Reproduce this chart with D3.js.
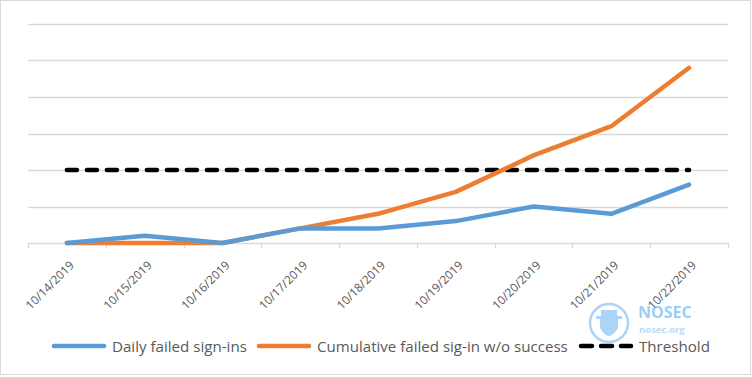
<!DOCTYPE html>
<html>
<head>
<meta charset="utf-8">
<script src="https://cdn.jsdelivr.net/npm/d3@7"></script>
<style>
  body { margin: 0; background: #fff; }
  text { font-family: "Open Sans", "Noto Sans", sans-serif; fill: #595959; }
</style>
</head>
<body>
<div id="chart"></div>
<script>
// chart values
const dates = ["10/14/2019", "10/15/2019", "10/16/2019", "10/17/2019", "10/18/2019",
               "10/19/2019", "10/20/2019", "10/21/2019", "10/22/2019"];
const dailyFailed = [0, 1, 0, 2, 2, 3, 5, 4, 8];
const cumulativeFailed = [0, 0, 0, 2, 4, 7, 12, 16, 24];
const threshold = [10, 10, 10, 10, 10, 10, 10, 10, 10];
const yTicks = [0, 5, 10, 15, 20, 25, 30];
const seriesNames = ["Daily failed sign-ins", "Cumulative failed sig-in w/o success", "Threshold"];

const w = 752, h = 377;

const svg = d3.select("#chart")
  .append("svg")
  .attr("width", w)
  .attr("height", h);

// outer frame
svg.append("rect")
  .attr("x", 0.5).attr("y", 0.5)
  .attr("width", w - 2).attr("height", h - 3)
  .attr("fill", "#fff")
  .attr("stroke", "#d9d9d9");

const plotLeft = 28, plotRight = 728, plotTop = 24, plotBottom = 243;

const x = d3.scaleBand()
  .domain(dates)
  .range([plotLeft, plotRight]);

const y = d3.scaleLinear()
  .domain([0, 30])
  .range([plotBottom, plotTop]);

// gridlines
svg.append("g")
  .selectAll("line")
  .data(yTicks.slice(1))
  .join("line")
  .attr("x1", plotLeft).attr("x2", plotRight)
  .attr("y1", d => Math.round(y(d)) + 0.5)
  .attr("y2", d => Math.round(y(d)) + 0.5)
  .attr("stroke", "#d9d9d9")
  .attr("stroke-width", 1.3);

// x axis line + category boundary ticks
svg.append("line")
  .attr("x1", plotLeft).attr("x2", plotRight)
  .attr("y1", plotBottom + 0.5).attr("y2", plotBottom + 0.5)
  .attr("stroke", "#d9d9d9")
  .attr("stroke-width", 1.3);

const boundaries = dates.map(d => x(d)).concat([x(dates[dates.length - 1]) + x.bandwidth()]);
svg.append("g")
  .selectAll("line")
  .data(boundaries)
  .join("line")
  .attr("x1", d => Math.round(d) + 0.5)
  .attr("x2", d => Math.round(d) + 0.5)
  .attr("y1", plotBottom).attr("y2", plotBottom + 5)
  .attr("stroke", "#d9d9d9")
  .attr("stroke-width", 1.3);

// rotated date labels
svg.append("g")
  .selectAll("text")
  .data(dates)
  .join("text")
  .attr("transform", d => "translate(" + (x(d) + x.bandwidth() / 2 + 8) + "," + (plotBottom + 23) + ") rotate(-45)")
  .attr("text-anchor", "end")
  .style("font-size", "11.8px")
  .text(d => d);

const cx = d => x(d) + x.bandwidth() / 2;

const line = d3.line()
  .x((d, i) => cx(dates[i]))
  .y(d => y(d));

svg.append("path")
  .datum(threshold)
  .attr("fill", "none")
  .attr("stroke", "#000")
  .attr("stroke-width", 4.5)
  .attr("stroke-linecap", "round")
  .attr("stroke-dasharray", "10,10")
  .attr("d", line);

svg.append("path")
  .datum(cumulativeFailed)
  .attr("fill", "none")
  .attr("stroke", "#ed7d31")
  .attr("stroke-width", 4.5)
  .attr("stroke-linejoin", "round")
  .attr("stroke-linecap", "round")
  .attr("d", line);

svg.append("path")
  .datum(dailyFailed)
  .attr("fill", "none")
  .attr("stroke", "#5b9bd5")
  .attr("stroke-width", 4.5)
  .attr("stroke-linejoin", "round")
  .attr("stroke-linecap", "round")
  .attr("d", line);

// legend
const legendColors = ["#5b9bd5", "#ed7d31", "#000"];
const legendX = [52, 257, 579];
const legendW = [135, 251, 71];
const ly = 346;
const legend = svg.append("g");
seriesNames.forEach((name, i) => {
  legend.append("line")
    .attr("x1", legendX[i] + 2).attr("x2", legendX[i] + 52)
    .attr("y1", ly).attr("y2", ly)
    .attr("stroke", legendColors[i])
    .attr("stroke-width", 4.5)
    .attr("stroke-linecap", "round")
    .attr("stroke-dasharray", i === 2 ? "11,9" : null);
  const t = legend.append("text")
    .attr("x", 0)
    .attr("y", 0)
    .style("font-size", "15px")
    .text(name);
  const natural = t.node().getComputedTextLength();
  t.attr("transform", "translate(" + (legendX[i] + 60) + "," + (ly + 6) + ") scale(" + (legendW[i] / natural) + ",1)");
});

// watermark
const wm = svg.append("g").attr("opacity", 0.6);
wm.append("circle")
  .attr("cx", 609).attr("cy", 323).attr("r", 19)
  .attr("fill", "none").attr("stroke", "#74b9f2").attr("stroke-width", 2.5);
wm.append("path")
  .attr("d", "M596,316 h26 v3 h-4 v9 q-5,8 -9,8 q-4,0 -9,-8 v-9 h-4 z M601,310 h16 v6 h-16 z")
  .attr("fill", "#74b9f2");
wm.append("text")
  .attr("x", 638).attr("y", 318)
  .style("font-size", "16px").style("font-weight", 700)
  .style("fill", "#5aaef0")
  .text("NOSEC");
wm.append("text")
  .attr("x", 639).attr("y", 333)
  .style("font-size", "9.5px").style("font-weight", 700)
  .style("fill", "#8cc4f2")
  .text("nosec.org");
</script>
</body>
</html>
